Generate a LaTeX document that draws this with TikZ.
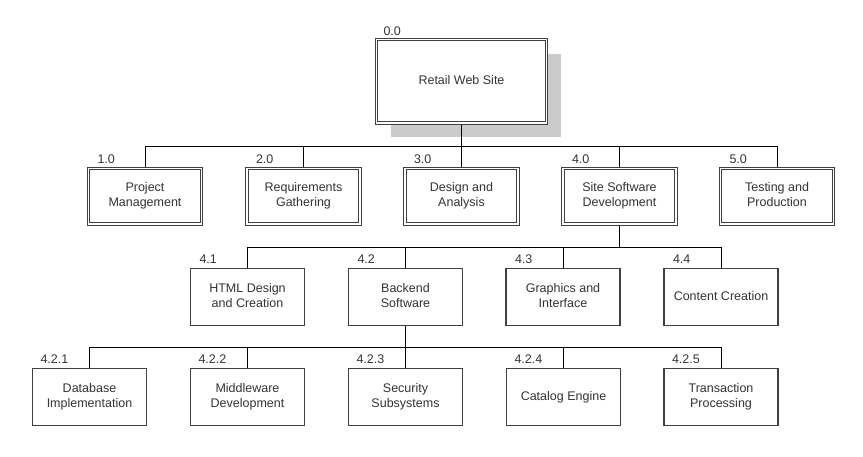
\documentclass[tikz,border=0pt]{standalone}
\usepackage{fontspec}
\setmainfont{Liberation Sans}
\usetikzlibrary{backgrounds}
\definecolor{boxline}{HTML}{404040}
\definecolor{txt}{HTML}{333333}
\definecolor{shadowgray}{HTML}{CBCBCB}
\begin{document}
\begin{tikzpicture}[x=1pt,y=-1pt,
  every node/.style={font=\fontsize{12.5}{15}\selectfont, text=txt, inner sep=0pt, outer sep=0pt},
  dblbox/.style={draw=boxline, line width=0.8pt, double=white, double distance=1.6pt,
    fill=white, minimum width=113pt, minimum height=55.5pt, align=center},
  rootbox/.style={dblbox, minimum width=170pt, minimum height=83.5pt},
  sglbox/.style={draw=boxline, line width=1.2pt, fill=white,
    minimum width=114pt, minimum height=57pt, align=center},
  lbl/.style={anchor=base west},
  conn/.style={draw=black, line width=0.9pt}
]
\useasboundingbox (0,0) rectangle (863,456);

% root
\node[rootbox] (root) at (461.5,81.25) {\strut Retail Web Site};
\node[lbl] (l0) at ([xshift=7pt,yshift=4pt]root.north west) {0.0};
\begin{scope}[on background layer]
  \fill[shadowgray] ([xshift=14pt,yshift=-14pt]root.north west) rectangle ([xshift=14pt,yshift=-14pt]root.south east);
\end{scope}

% level 1
\node[dblbox] (n1) at (145,196.25) {\strut Project\\Management\strut};
\node[dblbox] (n2) at (303.5,196.25) {\strut Requirements\\Gathering\strut};
\node[dblbox] (n3) at (461.5,196.25) {\strut Design and\\Analysis\strut};
\node[dblbox] (n4) at (619.5,196.25) {\strut Site Software\\Development\strut};
\node[dblbox] (n5) at (777,196.25) {\strut Testing and\\Production\strut};
\foreach \n/\t in {n1/1.0,n2/2.0,n3/3.0,n4/4.0,n5/5.0}
  \node[lbl] (l\n) at ([xshift=9pt,yshift=5pt]\n.north west) {\t};

% level 2
\node[sglbox] (m1) at (247.5,297) {\strut HTML Design\\and Creation\strut};
\node[sglbox] (m2) at (405.5,297) {\strut Backend\\Software\strut};
\node[sglbox] (m3) at (563,297) {\strut Graphics and\\Interface\strut};
\node[sglbox] (m4) at (721,297) {\strut Content Creation};
\foreach \n/\t in {m1/4.1,m2/4.2,m3/4.3,m4/4.4}
  \node[lbl] (l\n) at ([xshift=9pt,yshift=5pt]\n.north west) {\t};

% level 3
\node[sglbox] (k1) at (89.5,397) {\strut Database\\Implementation\strut};
\node[sglbox] (k2) at (247.5,397) {\strut Middleware\\Development\strut};
\node[sglbox] (k3) at (405.5,397) {\strut Security\\Subsystems\strut};
\node[sglbox] (k4) at (563.5,397) {\strut Catalog Engine};
\node[sglbox] (k5) at (721,397) {\strut Transaction\\Processing\strut};
\foreach \n/\t in {k1/4.2.1,k2/4.2.2,k3/4.2.3,k4/4.2.4,k5/4.2.5}
  \node[lbl] (l\n) at ([xshift=8pt,yshift=5pt]\n.north west) {\t};

% buses
\coordinate (b1) at (0,146);
\coordinate (b2) at (0,247);
\coordinate (b3) at (0,347);

\begin{scope}[on background layer]
\path[conn] (root.south) -- (root.south |- b1);
\path[conn] (n1.north |- b1) -- (n5.north |- b1);
\foreach \n in {n1,n2,n3,n4,n5} \path[conn] (\n.north) -- (\n.north |- b1);

\path[conn] (n4.south) -- (n4.south |- b2);
\path[conn] (m1.north |- b2) -- (m4.north |- b2);
\foreach \n in {m1,m2,m3,m4} \path[conn] (\n.north) -- (\n.north |- b2);

\path[conn] (m2.south) -- (m2.south |- b3);
\path[conn] (k1.north |- b3) -- (k5.north |- b3);
\foreach \n in {k1,k2,k3,k4,k5} \path[conn] (\n.north) -- (\n.north |- b3);
\end{scope}
\end{tikzpicture}
\end{document}
